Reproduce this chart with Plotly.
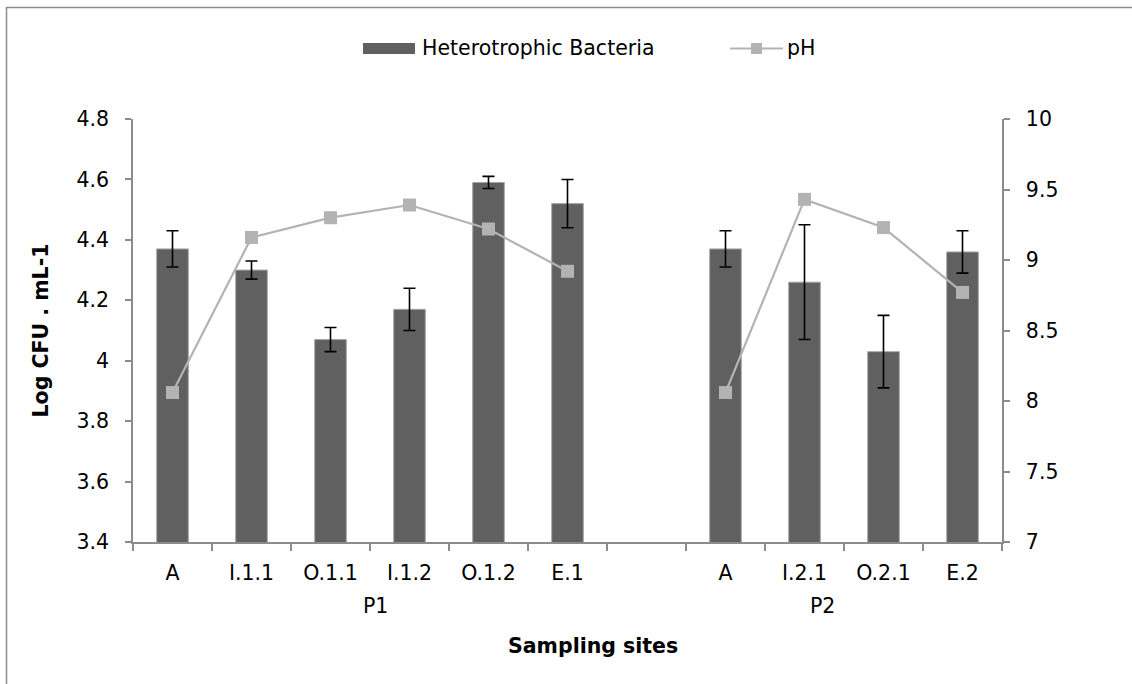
import plotly.graph_objects as go

# ---- data ----
categories = ["A", "I.1.1", "O.1.1", "I.1.2", "O.1.2", "E.1", "", "A", "I.2.1", "O.2.1", "E.2"]
groups = ["P1"] * 6 + [""] + ["P2"] * 4
bacteria = [4.37, 4.30, 4.07, 4.17, 4.59, 4.52, None, 4.37, 4.26, 4.03, 4.36]
bacteria_err = [0.06, 0.03, 0.04, 0.07, 0.02, 0.08, None, 0.06, 0.19, 0.12, 0.07]
ph = [8.06, 9.16, 9.30, 9.39, 9.22, 8.92, None, 8.06, 9.43, 9.23, 8.77]
left_ticks = [3.4, 3.6, 3.8, 4.0, 4.2, 4.4, 4.6, 4.8]
right_ticks = [7, 7.5, 8, 8.5, 9, 9.5, 10]

W, H = 1132, 684
ML, MR, MT, MB = 133, 130, 119, 142
PW, PH = W - ML - MR, H - MT - MB


def px(xp):
    return (xp - ML) / PW


def py(yp):
    return (MT + PH - yp) / PH


FONT = "DejaVu Sans"
FS = 20.5
AX = "#8c8c8c"
BAR = "#606060"
LINE = "#b3b3b3"

idx = list(range(len(categories)))

fig = go.Figure()
fig.add_trace(go.Bar(
    x=idx, y=bacteria, width=0.4,
    marker=dict(color=BAR, line=dict(color="#a6a6a6", width=1)),
    error_y=dict(type="data", array=bacteria_err, visible=True,
                 color="#000000", thickness=1.6, width=6),
    name="Heterotrophic Bacteria", showlegend=False,
))
fig.add_trace(go.Scatter(
    x=idx, y=ph, yaxis="y2", mode="lines+markers", connectgaps=False,
    line=dict(color=LINE, width=2.2),
    marker=dict(symbol="square", size=13, color=LINE),
    name="pH", showlegend=False,
))

fig.update_layout(
    width=W, height=H,
    margin=dict(l=ML, r=MR, t=MT, b=MB, pad=0),
    paper_bgcolor="white", plot_bgcolor="white",
    font=dict(family=FONT, size=FS, color="#000"),
    showlegend=False,
    xaxis=dict(
        range=[-0.5, len(categories) - 0.5],
        tickmode="array", tickvals=idx, ticktext=categories,
        ticks="", showgrid=False, zeroline=False,
        showline=True, linecolor=AX, linewidth=1.5,
        tickfont=dict(size=FS),
        ticklabelstandoff=12,
        minor=dict(ticks="outside", tickmode="linear", tick0=-0.5, dtick=1,
                   ticklen=7, tickcolor=AX, tickwidth=1.5, showgrid=False),
    ),
    yaxis=dict(
        range=[3.4, 4.8], tickmode="array", tickvals=left_ticks,
        ticktext=[f"{v:g}" for v in left_ticks],
        ticks="outside", ticklen=6, tickcolor=AX, tickwidth=1.5,
        showgrid=False, zeroline=False,
        showline=True, linecolor=AX, linewidth=1.5,
        ticklabelstandoff=12,
        title=dict(text="<b>Log CFU . mL-1</b>", font=dict(size=FS), standoff=22),
    ),
    yaxis2=dict(
        range=[7, 10], overlaying="y", side="right",
        tickmode="array", tickvals=right_ticks,
        ticktext=[f"{v:g}" for v in right_ticks],
        ticks="outside", ticklen=6, tickcolor=AX, tickwidth=1.5,
        showgrid=False, zeroline=False,
        showline=True, linecolor=AX, linewidth=1.5,
        ticklabelstandoff=12,
    ),
)

annotations = []
# group labels
annotations.append(dict(text="P1", x=px(375), y=py(606), xref="paper", yref="paper",
                        showarrow=False, font=dict(size=FS), xanchor="center", yanchor="middle"))
annotations.append(dict(text="P2", x=px(822), y=py(606), xref="paper", yref="paper",
                        showarrow=False, font=dict(size=FS), xanchor="center", yanchor="middle"))
# x title
annotations.append(dict(text="<b>Sampling sites</b>", x=px(593), y=py(646), xref="paper", yref="paper",
                        showarrow=False, font=dict(size=FS), xanchor="center", yanchor="middle"))
# legend texts
annotations.append(dict(text="Heterotrophic Bacteria", x=px(420), y=py(48), xref="paper", yref="paper",
                        showarrow=False, font=dict(size=FS), xanchor="left", yanchor="middle"))
annotations.append(dict(text="pH", x=px(785), y=py(48), xref="paper", yref="paper",
                        showarrow=False, font=dict(size=FS), xanchor="left", yanchor="middle"))
fig.update_layout(annotations=annotations)

shapes = [
    # outer frame
    dict(type="rect", xref="paper", yref="paper", x0=px(6.5), y0=py(7.5), x1=px(1160), y1=py(720),
         line=dict(color="#8c8c8c", width=1.5), fillcolor="rgba(0,0,0,0)", layer="below"),
    # legend bar swatch
    dict(type="rect", xref="paper", yref="paper", x0=px(363), x1=px(415), y0=py(54), y1=py(43),
         line=dict(width=0), fillcolor=BAR),
    # legend line swatch
    dict(type="line", xref="paper", yref="paper", x0=px(730), x1=px(783), y0=py(48.5), y1=py(48.5),
         line=dict(color=LINE, width=2.2)),
    dict(type="rect", xref="paper", yref="paper", x0=px(751), x1=px(762), y0=py(54), y1=py(43),
         line=dict(width=0), fillcolor=LINE),
]
fig.update_layout(shapes=shapes)

fig.write_html("out.html")
